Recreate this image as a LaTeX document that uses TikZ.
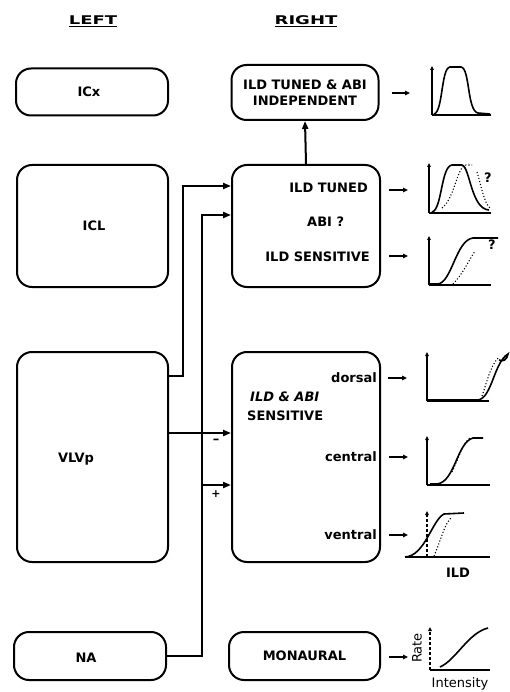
\documentclass[tikz,border=0pt]{standalone}
\usepackage{fontspec}
\setmainfont{DejaVu Sans}
\usetikzlibrary{arrows.meta}
\begin{document}
\begin{tikzpicture}[x=1pt,y=-1pt,
  box/.style={draw, line width=2pt, rounded corners=15pt, inner sep=0pt},
  lbl/.style={font=\bfseries\fontsize{13}{15}\selectfont, inner sep=0pt},
  ilbl/.style={font=\bfseries\itshape\fontsize{13}{15}\selectfont, inner sep=0pt},
  hdr/.style={font=\bfseries\fontsize{12}{14}\selectfont, inner sep=0pt, xscale=1.5},
  conn/.style={line width=2pt},
  arr/.style={conn, -{Triangle[length=8pt,width=6pt]}},
  tip/.style={line width=1.5pt, -{Triangle[length=5pt,width=4.5pt]}},
  axis/.style={line width=1.6pt},
  axtip/.style={line width=1.6pt, -{Triangle[length=4pt,width=3.5pt]}},
  crv/.style={line width=1.6pt},
  dcrv/.style={line width=1.1pt, dotted},
  ptxt/.style={font=\fontsize{13}{15}\selectfont, inner sep=0pt}]
\useasboundingbox (0,0) rectangle (510,692);

% headers
\node[hdr] (hl) at (93,21) {\underline{LEFT}};
\node[hdr] (hr) at (306,21) {\underline{RIGHT}};

% left column
\node[box, minimum width=152pt, minimum height=47pt] (icx) at (92,92) {};
\node[lbl] (ticx) at (89,92) {ICx};
\node[box, minimum width=151pt, minimum height=122pt] (icl) at (92.5,226) {};
\node[lbl] (ticl) at (94,226) {ICL};
\node[box, minimum width=151pt, minimum height=210pt] (vlvp) at (92.5,457) {};
\node[lbl] (tvlvp) at (76,459) {VLVp};
\node[box, minimum width=152pt, minimum height=48pt] (na) at (90,656) {};
\node[lbl] (tna) at (86,658) {NA};

% right column
\node[box, minimum width=147pt, minimum height=55pt, align=center, lbl, font=\bfseries\fontsize{13}{16}\selectfont] (indep) at (305,92.5) {ILD TUNED \& ABI\\INDEPENDENT};
\node[box, minimum width=148pt, minimum height=122pt] (tuned) at (306,226) {};
\node[lbl, anchor=east] (t1) at (368,188) {ILD TUNED};
\node[lbl, anchor=west] (t2) at (307,222) {ABI ?};
\node[lbl, anchor=east] (t3) at (370,257) {ILD SENSITIVE};
\node[box, minimum width=148pt, minimum height=210pt] (abi) at (306,457) {};
\node[ilbl, anchor=west] (a1) at (250,397) {ILD \& ABI};
\node[lbl, anchor=west] (a2) at (247,416) {SENSITIVE};
\node[lbl, anchor=east] (dor) at (377,378) {dorsal};
\node[lbl, anchor=east] (cen) at (377,457) {central};
\node[lbl, anchor=east] (ven) at (377,535) {ventral};
\node[box, minimum width=151pt, minimum height=48pt, lbl] (mon) at (304.5,656) {MONAURAL};

% junction coordinates
\coordinate (j1) at (183,376);
\coordinate (j2) at (183,186);
\coordinate (j3) at (202,215);
\coordinate (j4) at (202,656);
\coordinate (j5) at (202,485);
\coordinate (j6) at (202,433);

% connectors
\draw[arr] (vlvp.east |- j1) -- (j1) -- (j2) -- (tuned.west |- j2);
\draw[arr] (na.east) -- (j4) -- (j3) -- (tuned.west |- j3);
\draw[arr] (j5) -- (abi.west |- j5);
\draw[arr] (vlvp.east |- j6) -- (abi.west |- j6);
\draw[arr] (tuned.north) -- (indep.south);
\node[font=\bfseries\fontsize{13}{15}\selectfont, inner sep=0pt] (minus) at (216,441) {--};
\node[font=\bfseries\fontsize{11}{13}\selectfont, inner sep=0pt] (plus) at (216,494) {+};

% arrows to plots
\coordinate (p0) at (410,93);
\coordinate (p1) at (408,190);
\coordinate (p2) at (408,256);
\coordinate (p3) at (407,378);
\coordinate (p4) at (408,457);
\coordinate (p5) at (408,535);
\coordinate (p6) at (408,657);
\draw[tip] ([xshift=12pt]indep.east |- p0) -- (p0);
\draw[tip] ([xshift=8pt]tuned.east |- p1) -- (p1);
\draw[tip] ([xshift=8pt]tuned.east |- p2) -- (p2);
\draw[tip] ([xshift=7pt]abi.east |- p3) -- (p3);
\draw[tip] ([xshift=8pt]abi.east |- p4) -- (p4);
\draw[tip] ([xshift=8pt]abi.east |- p5) -- (p5);
\draw[tip] ([xshift=8pt]mon.east |- p6) -- (p6);

% plot 0: ILD tuned & ABI independent
\draw[axtip] (432,115) -- (432,66);
\draw[axis] (432,115) -- (491,115);
\draw[crv] (434,114) .. controls (443,112) and (441,68) .. (450,67) -- (461,67)
  .. controls (470,68) and (467,111) .. (478,113) -- (490,114);

% plot 1: ILD tuned
\draw[axtip] (429,213) -- (429,163);
\draw[axis] (429,213) -- (491,213);
\draw[crv] (432,212) .. controls (442,210) and (441,166) .. (452,165) -- (462,165)
  .. controls (470,167) and (471,209) .. (489,210);
\draw[dcrv] (442,208) .. controls (455,198) and (457,166) .. (466,165) -- (472,165);
\draw[dcrv] (477,172) .. controls (481,185) and (484,203) .. (490,208);
\node[lbl] (q1) at (488,178) {?};

% plot 2: ILD sensitive
\draw[axtip] (429,285) -- (429,236);
\draw[axis] (429,285) -- (491,285);
\draw[crv] (430,284) -- (438,284) .. controls (452,282) and (456,240) .. (473,238) -- (498,238);
\draw[dcrv] (453,284) .. controls (462,275) and (468,262) .. (475,251);
\node[lbl] (q2) at (492,245) {?};

% plot 3: dorsal
\draw[axtip] (427,401) -- (427,352);
\draw[axis] (427,401) -- (489,401);
\draw[crv] (428,400) -- (478,400) .. controls (492,398) and (494,362) .. (508,354)
  .. controls (507,360) and (503,362) .. (499,360);
\draw[dcrv] (482,396) .. controls (487,382) and (490,366) .. (499,357);

% plot 4: central
\draw[axtip] (427,485) -- (427,436);
\draw[axis] (427,485) -- (490,485);
\draw[crv] (430,484) -- (437,484) .. controls (455,482) and (457,442) .. (473,438) -- (483,438);
\draw[dcrv] (452,472) .. controls (458,460) and (462,444) .. (470,438);

% plot 5: ventral
\draw[axtip, densely dashed] (427,557) -- (427,511);
\draw[axis] (405,557) -- (490,557);
\draw[crv] (405,557) .. controls (425,556) and (432,520) .. (444,514) -- (464,513);
\draw[dcrv] (434,556) .. controls (441,540) and (445,522) .. (452,517);
\node[lbl] (ild) at (458,573) {ILD};

% plot 6: monaural
\draw[axtip, densely dashed] (430,670) -- (430,627);
\draw[axis] (430,670) -- (490,670);
\draw[crv] (440,667) .. controls (456,660) and (468,633) .. (488,628);
\node[ptxt, rotate=90] (rate) at (417,648) {Rate};
\node[ptxt] (inten) at (460,684) {Intensity};
\end{tikzpicture}
\end{document}
